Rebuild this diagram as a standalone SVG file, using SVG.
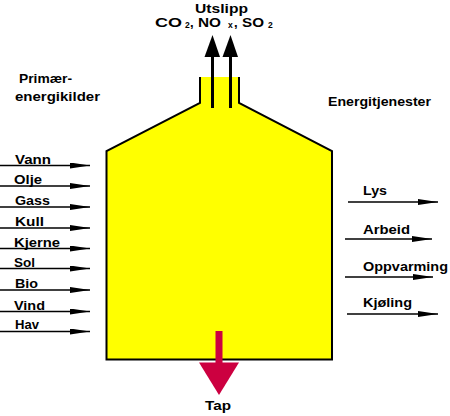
<svg xmlns="http://www.w3.org/2000/svg" width="450" height="416" viewBox="0 0 450 416">
<style>
  text { font-family: "Liberation Sans", Arial, sans-serif; font-weight: bold; font-size: 13px; fill: #000; }
  .sub { font-size: 8.5px; }
  .flow { stroke: #000; stroke-width: 1.4; fill: none; marker-end: url(#ah); }
</style>
<defs>
  <marker id="ah" markerUnits="userSpaceOnUse" viewBox="0 -3 20 6" markerWidth="20" markerHeight="6" refX="20" refY="0" orient="auto">
    <path d="M0,-3 L20,0 L0,3 Z" fill="#000"/>
  </marker>
</defs>
<rect width="450" height="416" fill="#fff"/>

<g id="vessel">
  <polygon points="200,77 239,77 239,103 332,151 332,359.5 106.5,359.5 106.5,151 200,103" fill="#ffff00"/>
  <polyline points="200,77 200,103 106.5,151 106.5,359.5 332,359.5 332,151 239,103 239,77" fill="none" stroke="#000" stroke-width="2"/>
</g>

<g id="utslipp">
  <text x="195" y="12.5" textLength="53" lengthAdjust="spacingAndGlyphs">Utslipp</text>
  <text x="155" y="27" textLength="27" lengthAdjust="spacingAndGlyphs">CO</text>
  <text class="sub" x="185" y="28">2</text>
  <text x="190" y="27">,</text>
  <text x="198" y="27" textLength="23" lengthAdjust="spacingAndGlyphs">NO</text>
  <text class="sub" x="228" y="28">x</text>
  <text x="234" y="27">,</text>
  <text x="242" y="27" textLength="22" lengthAdjust="spacingAndGlyphs">SO</text>
  <text class="sub" x="268" y="28">2</text>
</g>

<g id="primaer">
  <text x="19" y="83" textLength="53" lengthAdjust="spacingAndGlyphs">Primær-</text>
  <text x="15" y="101" textLength="85" lengthAdjust="spacingAndGlyphs">energikilder</text>
</g>

<g id="energitjenester">
  <text x="328" y="105.5" textLength="103" lengthAdjust="spacingAndGlyphs">Energitjenester</text>
</g>

<g id="inputs">
  <text x="15" y="163.5" textLength="36" lengthAdjust="spacingAndGlyphs">Vann</text>
  <text x="14" y="184" textLength="28" lengthAdjust="spacingAndGlyphs">Olje</text>
  <text x="15" y="205" textLength="35" lengthAdjust="spacingAndGlyphs">Gass</text>
  <text x="15" y="226" textLength="29" lengthAdjust="spacingAndGlyphs">Kull</text>
  <text x="14" y="246.5" textLength="46" lengthAdjust="spacingAndGlyphs">Kjerne</text>
  <text x="14" y="266.5" textLength="21" lengthAdjust="spacingAndGlyphs">Sol</text>
  <text x="15" y="288" textLength="23" lengthAdjust="spacingAndGlyphs">Bio</text>
  <text x="14" y="309.5" textLength="31" lengthAdjust="spacingAndGlyphs">Vind</text>
  <text x="15" y="329" textLength="24" lengthAdjust="spacingAndGlyphs">Hav</text>
</g>

<g id="outputs">
  <text x="363" y="195" textLength="24" lengthAdjust="spacingAndGlyphs">Lys</text>
  <text x="363" y="233.5" textLength="47" lengthAdjust="spacingAndGlyphs">Arbeid</text>
  <text x="363" y="271" textLength="85" lengthAdjust="spacingAndGlyphs">Oppvarming</text>
  <text x="363" y="307" textLength="49" lengthAdjust="spacingAndGlyphs">Kjøling</text>
</g>

<g id="tap">
  <rect x="215.5" y="331" width="7" height="33" fill="#cc0040"/>
  <polygon points="199,362.5 239,362.5 219,395" fill="#cc0040"/>
  <text x="205" y="410" textLength="26" lengthAdjust="spacingAndGlyphs">Tap</text>
</g>

<g id="connectors">
  <line class="flow" x1="0" y1="165.5" x2="90" y2="165.5"/>
  <line class="flow" x1="0" y1="186" x2="90" y2="186"/>
  <line class="flow" x1="0" y1="207" x2="90" y2="207"/>
  <line class="flow" x1="0" y1="228" x2="90" y2="228"/>
  <line class="flow" x1="0" y1="248.5" x2="90" y2="248.5"/>
  <line class="flow" x1="0" y1="268.5" x2="90" y2="268.5"/>
  <line class="flow" x1="0" y1="290" x2="90" y2="290"/>
  <line class="flow" x1="0" y1="311.5" x2="90" y2="311.5"/>
  <line class="flow" x1="0" y1="331.5" x2="90" y2="331.5"/>
  <line class="flow" x1="348" y1="202" x2="438" y2="202"/>
  <line class="flow" x1="345" y1="239" x2="432" y2="239"/>
  <line class="flow" x1="345" y1="277" x2="433" y2="277"/>
  <line class="flow" x1="347" y1="314" x2="438" y2="314"/>
  <rect x="211" y="55" width="3" height="53" fill="#000"/>
  <polygon points="204.5,57 212.5,35 220,57" fill="#000"/>
  <rect x="229" y="55" width="3" height="53" fill="#000"/>
  <polygon points="222.5,57 230.5,35 238,57" fill="#000"/>
</g>
</svg>
